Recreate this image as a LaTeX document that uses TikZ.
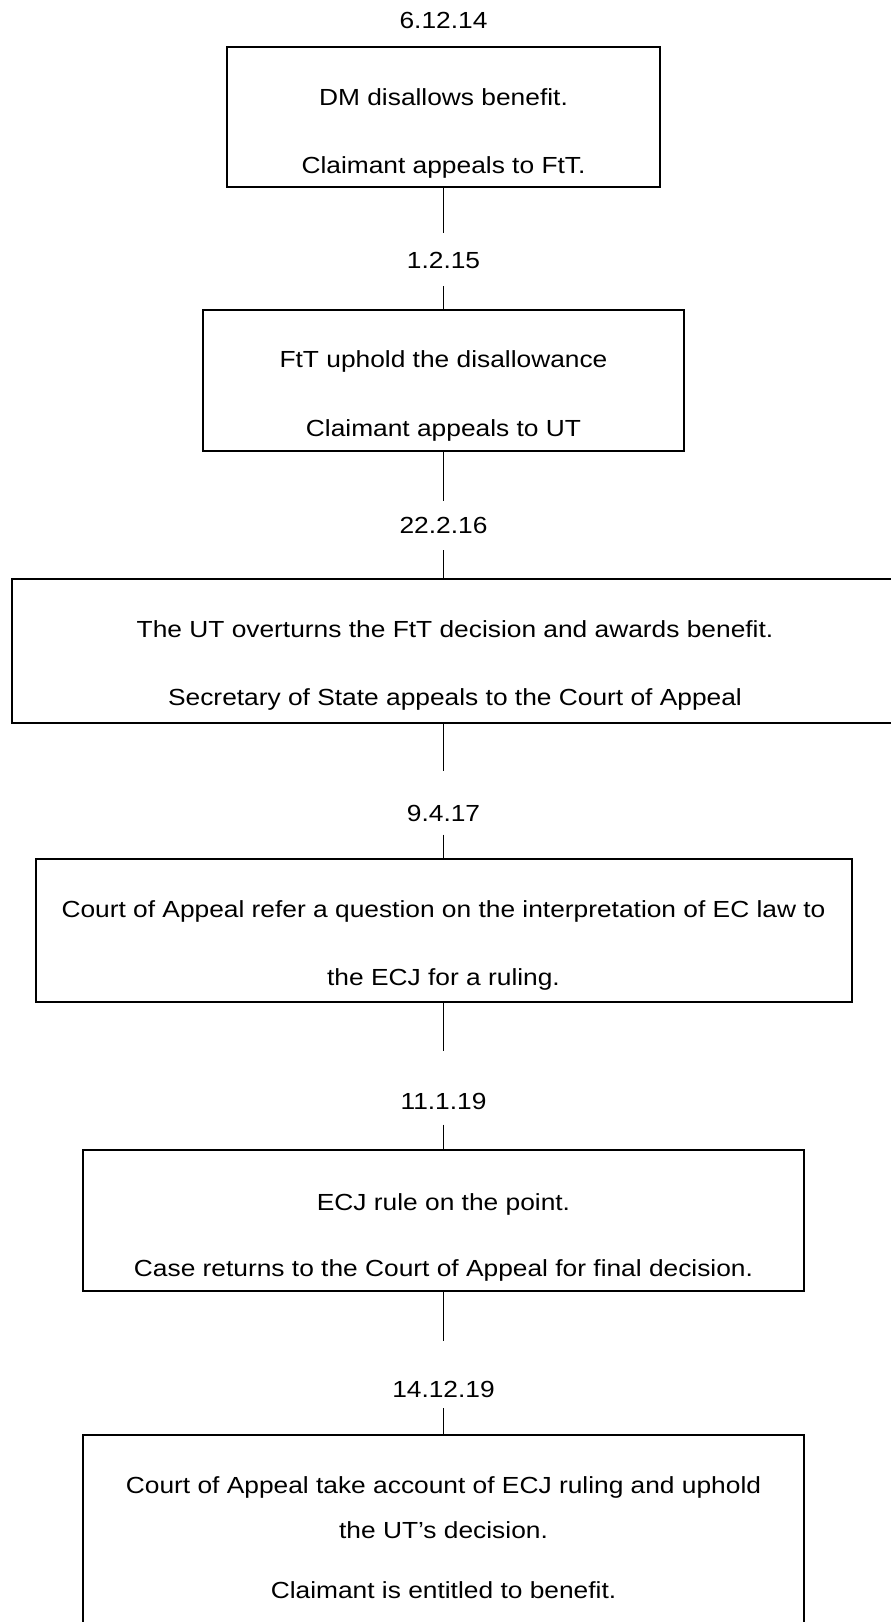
\documentclass[tikz,border=0pt]{standalone}
\usepackage{fontspec}
\setmainfont{Liberation Sans}[FakeStretch=1.13]
\begin{document}
\begin{tikzpicture}[x=1pt,y=-1pt,
  box/.style={draw=black,line width=2pt,inner sep=0pt,outer sep=0pt,fill=none},
  conn/.style={draw=black,line width=1.1pt},
  txt/.style={anchor=base,inner sep=0pt,font=\fontsize{23.3}{28}\selectfont},
  datelbl/.style={anchor=base,inner sep=0pt,font=\fontsize{23.3}{28}\selectfont}]
\useasboundingbox[fill=white] (0,0) rectangle (891,1622);
% boxes
\node[box,minimum width=433pt,minimum height=140pt] (b1) at (443.5,116.7) {};
\node[box,minimum width=480.5pt,minimum height=140.7pt] (b2) at (443.25,380.35) {};
\node[box,minimum width=886.3pt,minimum height=144pt] (b3) at (454.85,651) {};
\node[box,minimum width=816.2pt,minimum height=143.3pt] (b4) at (443.9,930.35) {};
\node[box,minimum width=720.7pt,minimum height=141pt] (b5) at (443.65,1220.5) {};
\node[box,minimum width=720.7pt,minimum height=210pt] (b6) at (443.65,1539.6) {};
% dates
\node[datelbl] (d1) at (443.5,28.3) {6.12.14};
\node[datelbl] (d2) at (443.5,268.3) {1.2.15};
\node[datelbl] (d3) at (443.5,533.4) {22.2.16};
\node[datelbl] (d4) at (443.5,821.2) {9.4.17};
\node[datelbl] (d5) at (443.5,1109.8) {11.1.19};
\node[datelbl] (d6) at (443.5,1397.5) {14.12.19};
% texts
\node[txt] (t1a) at (443.5,105.3) {DM disallows benefit.};
\node[txt] (t1b) at (443.5,173) {Claimant appeals to FtT.};
\node[txt] (t2a) at (443.5,367.3) {FtT uphold the disallowance};
\node[txt] (t2b) at (443.5,436.7) {Claimant appeals to UT};
\node[txt] (t3a) at (455,637.5) {The UT overturns the FtT decision and awards benefit.};
\node[txt] (t3b) at (455,705.6) {Secretary of State appeals to the Court of Appeal};
\node[txt] (t4a) at (443.5,917.7) {Court of Appeal refer a question on the interpretation of EC law to};
\node[txt] (t4b) at (443.5,985.8) {the ECJ for a ruling.};
\node[txt] (t5a) at (443.5,1210) {ECJ rule on the point.};
\node[txt] (t5b) at (443.5,1276.8) {Case returns to the Court of Appeal for final decision.};
\node[txt] (t6a) at (443.5,1493.6) {Court of Appeal take account of ECJ ruling and uphold};
\node[txt] (t6b) at (443.5,1538) {the UT’s decision.};
\node[txt] (t6c) at (443.5,1598.6) {Claimant is entitled to benefit.};
% connector ends
\coordinate (e1) at (443.5,232.7);
\coordinate (s2) at (443.5,286);
\coordinate (e2) at (443.5,501);
\coordinate (s3) at (443.5,550.3);
\coordinate (e3) at (443.5,770.7);
\coordinate (s4) at (443.5,834.6);
\coordinate (e4) at (443.5,1051);
\coordinate (s5) at (443.5,1124.6);
\coordinate (e5) at (443.5,1341);
\coordinate (s6) at (443.5,1408);
% connectors
\draw[conn] (e1 |- b1.south) -- (e1);
\draw[conn] (s2) -- (s2 |- b2.north);
\draw[conn] (e2 |- b2.south) -- (e2);
\draw[conn] (s3) -- (s3 |- b3.north);
\draw[conn] (e3 |- b3.south) -- (e3);
\draw[conn] (s4) -- (s4 |- b4.north);
\draw[conn] (e4 |- b4.south) -- (e4);
\draw[conn] (s5) -- (s5 |- b5.north);
\draw[conn] (e5 |- b5.south) -- (e5);
\draw[conn] (s6) -- (s6 |- b6.north);
\end{tikzpicture}
\end{document}
